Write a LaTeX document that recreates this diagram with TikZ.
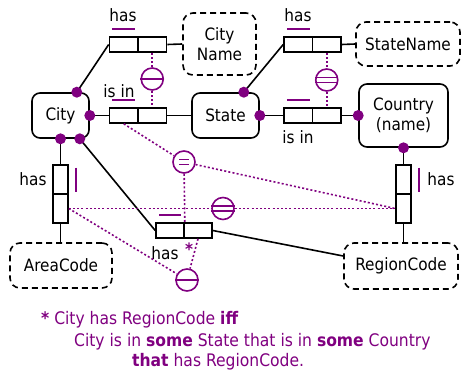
\documentclass[tikz,border=0pt]{standalone}
\usepackage{fontspec}
\setmainfont{DejaVu Sans Condensed}
\definecolor{orm}{RGB}{128,0,128}
\begin{document}
\begin{tikzpicture}[x=1pt,y=-1pt,
  font=\fontsize{17}{20}\selectfont,
  entity/.style={draw, line width=1.6pt, rounded corners=8pt, inner sep=0pt, align=center},
  valuetype/.style={entity, dash pattern=on 6pt off 4pt, rounded corners=10pt},
  hcell/.style={draw, line width=1.6pt, minimum width=28.5pt, minimum height=15pt, inner sep=0pt},
  vcell/.style={draw, line width=1.6pt, minimum width=15pt, minimum height=29pt, inner sep=0pt},
  link/.style={line width=1.6pt},
  cons/.style={draw=orm, line width=1.6pt, circle, minimum size=22pt, inner sep=0pt},
  cline/.style={draw=orm, line width=1.6pt, dash pattern=on 2pt off 2.2pt},
  ubar/.style={draw=orm, line width=2.2pt},
  mark line/.style={draw=orm, line width=1.6pt},
  lbl/.style={inner sep=0pt}
]
\useasboundingbox (0,0) rectangle (462,372);

% object types
\node[entity, minimum width=57pt, minimum height=45pt] (City) at (60.5,115.5) {City};
\node[entity, minimum width=67pt, minimum height=45pt] (State) at (225.5,115.5) {State};
\node[entity, minimum width=89pt, minimum height=63pt] (Country) at (403.5,115.5) {Country\\(name)};

% value types
\node[valuetype, minimum width=73pt, minimum height=62pt] (CityName) at (219.5,44) {City\\Name};
\node[valuetype, minimum width=104pt, minimum height=44pt] (StateName) at (408,44) {StateName};
\node[valuetype, minimum width=102pt, minimum height=45pt] (AreaCode) at (61,265.5) {AreaCode};
\node[valuetype, minimum width=114pt, minimum height=46pt] (RegionCode) at (401,266) {RegionCode};

% fact types (role boxes)
\node[hcell] (hasCN1) at (123.75,44.5) {};
\node[hcell] (hasCN2) at (152.25,44.5) {};
\node[hcell] (isinCS1) at (123.75,115.5) {};
\node[hcell] (isinCS2) at (152.25,115.5) {};
\node[hcell] (hasSN1) at (298.25,44.5) {};
\node[hcell] (hasSN2) at (326.75,44.5) {};
\node[hcell] (isinSC1) at (298.25,115.5) {};
\node[hcell] (isinSC2) at (326.75,115.5) {};
\node[vcell] (hasAC1) at (60.5,179.5) {};
\node[vcell] (hasAC2) at (60.5,208.5) {};
\node[vcell] (hasRC1) at (403.5,179.5) {};
\node[vcell] (hasRC2) at (403.5,208.5) {};
\node[hcell, minimum width=28pt] (hasCR1) at (170,230.5) {};
\node[hcell, minimum width=28pt] (hasCR2) at (198,230.5) {};

% fact type readings
\node[lbl] (lhasCN) at (123,15) {has};
\node[lbl] (lisinCS) at (119,91) {is in};
\node[lbl] (lhasSN) at (298,15) {has};
\node[lbl] (lisinSC) at (298,137) {is in};
\node[lbl] (lhasAC) at (33,179) {has};
\node[lbl] (lhasRC) at (441,179) {has};
\node[lbl] (lhasCR) at (165,253) {has};
\node[lbl, text=orm, font=\fontsize{17}{20}\selectfont\bfseries] (star) at (189,249) {*};

% role connectors
\coordinate (dCityT) at ([xshift=-13pt]City.north east);
\coordinate (dCityR) at (City.east);
\coordinate (dCityB1) at (City.south);
\coordinate (dCityB2) at ([xshift=-10pt]City.south east);
\coordinate (dStateT) at ([xshift=-16pt]State.north east);
\coordinate (dStateR) at (State.east);
\coordinate (dCountryL) at (Country.west);
\coordinate (dCountryB) at (Country.south);
\coordinate (rcIn) at ([yshift=10pt]RegionCode.west);

\draw[link] (dCityT) -- (hasCN1.west);
\draw[link] (hasCN2.east) -- (CityName.west);
\draw[link] (dCityR) -- (isinCS1.west);
\draw[link] (isinCS2.east) -- (State.west);
\draw[link] (dStateT) -- (hasSN1.west);
\draw[link] (hasSN2.east) -- (StateName.west);
\draw[link] (dStateR) -- (isinSC1.west);
\draw[link] (isinSC2.east) -- (dCountryL);
\draw[link] (dCityB1) -- (hasAC1.north);
\draw[link] (hasAC2.south) -- (AreaCode.north -| hasAC2.south);
\draw[link] (dCountryB) -- (hasRC1.north);
\draw[link] (hasRC2.south) -- (RegionCode.north -| hasRC2.south);
\draw[link] (dCityB2) -- (hasCR1.west);
\draw[link] (hasCR2.east) -- (rcIn);

% mandatory role dots
\foreach \p in {dCityT,dCityR,dCityB1,dCityB2,dStateT,dStateR,dCountryL,dCountryB}
  \fill[orm] (\p) circle (5.5pt);

% uniqueness bars
\draw[ubar] ([shift={(-11.5,-7)}]hasCN1.north) -- ([shift={(11.5,-7)}]hasCN1.north);
\draw[ubar] ([shift={(-11.5,-7)}]isinCS1.north) -- ([shift={(11.5,-7)}]isinCS1.north);
\draw[ubar] ([shift={(-11.5,-7)}]hasSN1.north) -- ([shift={(11.5,-7)}]hasSN1.north);
\draw[ubar] ([shift={(-11.5,-7)}]isinSC1.north) -- ([shift={(11.5,-7)}]isinSC1.north);
\draw[ubar] ([shift={(-11,-7)}]hasCR1.north) -- ([shift={(11,-7)}]hasCR1.north);
\draw[ubar] ([shift={(7,-12)}]hasAC1.east) -- ([shift={(7,12)}]hasAC1.east);
\draw[ubar] ([shift={(7,-12)}]hasRC1.east) -- ([shift={(7,12)}]hasRC1.east);

% constraints
\node[cons] (c1) at (152.25,79) {};
\node[cons] (c2) at (326.75,80) {};
\node[cons] (ceq) at (184,162) {};
\node[cons] (c3) at (223,208.5) {};
\node[cons] (c4) at (187,280) {};

\draw[mark line] (c1.west) -- (c1.east);
\draw[mark line] (c4.west) -- (c4.east);
\draw[mark line] (c2.168) -- (c2.12);
\draw[mark line] (c2.192) -- (c2.348);
\draw[mark line] (c3.168) -- (c3.12);
\draw[mark line] (c3.192) -- (c3.348);
\draw[mark line] ([shift={(-5,-2.5)}]ceq.center) -- ([shift={(5,-2.5)}]ceq.center);
\draw[mark line] ([shift={(-5,2.5)}]ceq.center) -- ([shift={(5,2.5)}]ceq.center);

% constraint connectors
\draw[cline] (hasCN2.south) -- (c1);
\draw[cline] (c1) -- (isinCS2.north);
\draw[cline] (hasSN2.south) -- (c2);
\draw[cline] (c2) -- (isinSC2.north);
\draw[cline] (isinCS1.south) -- (ceq);
\draw[cline] (ceq) -- (hasRC2.west);
\draw[cline] (ceq) -- (hasCR1.north east);
\draw[cline] (hasAC2.east) -- (c3);
\draw[cline] (c3) -- (hasRC2.west);
\draw[cline] (hasAC2.east) -- (c4);
\draw[cline] (hasCR2.south) -- (c4);

% footnote
\begin{scope}[every node/.style={anchor=west, inner sep=0pt, text=orm, font=\fontsize{17.3}{20}\selectfont}]
\node (note1) at (41,320) {\textbf{*} City has RegionCode \textbf{iff}};
\node (note2) at (74,342) {City is in \textbf{some} State that is in \textbf{some} Country};
\node (note3) at (132,362) {\textbf{that} has RegionCode.};
\end{scope}
\end{tikzpicture}
\end{document}
